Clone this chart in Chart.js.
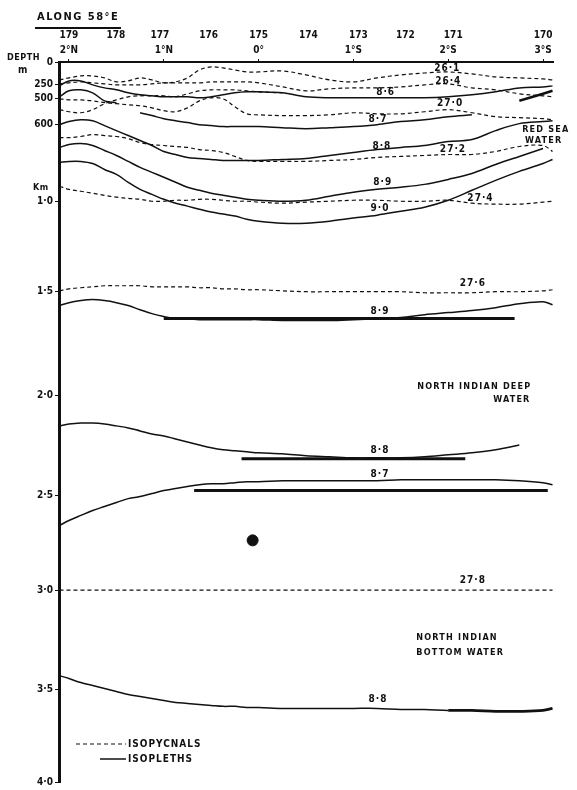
<!DOCTYPE html>
<html>
<head>
<meta charset="utf-8">
<script src="https://cdn.jsdelivr.net/npm/chart.js@4.4.0/dist/chart.umd.min.js"></script>
<style>
  html, body { margin: 0; padding: 0; background: #fff; }
  canvas { display: block; }
</style>
</head>
<body>
<canvas id="section" width="577" height="790"></canvas>
<script>
// Section along 58°E, stations 179-170 (2°N to 3°S)
// x = latitude (N positive), y = depth in m

const latGrid = [2.1, 2.0, 1.875, 1.75, 1.625, 1.5, 1.375, 1.25, 1.125, 1.0, 0.875, 0.75, 0.625, 0.5, 0.375, 0.25, 0.125, 0,
  -0.25, -0.5, -0.75, -1.0, -1.25, -1.5, -1.75, -2.0, -2.25, -2.5, -2.75, -3.0, -3.1];

const stationNumbers = [179, 178, 177, 176, 175, 174, 173, 172, 171, 170];
const stationLat = [2.0, 1.505, 1.04, 0.526, 0.0, -0.526, -1.053, -1.547, -2.053, -3.0];
const latTicks = [2, 1, 0, -1, -2, -3];
const latLabels = ["2°N", "1°N", "0°", "1°S", "2°S", "3°S"];

const depthTicks = [0, 250, 500, 600, 1000, 1500, 2000, 2500, 3000, 3500, 4000];
const depthLabels = ["0", "250", "500", "600", "1·0", "1·5", "2·0", "2·5", "3·0", "3·5", "4·0"];

// isopycnals (sigma-t)
const sig261 = [196,174,152,152,174,217,207,174,196,228,217,174,87,54,65,87,109,109,98,141,196,217,174,141,120,109,130,163,174,185,196];
const sig264 = [239,228,217,228,239,250,250,250,239,228,228,228,228,217,217,217,217,228,286,357,321,304,304,286,250,239,304,339,411,446,464];
const sig270 = [500,504,504,508,515,519,523,527,535,546,550,535,508,482,500,531,558,562,565,565,562,554,558,558,550,542,554,569,573,577,581];
const sig270b = [542,550,554,542,519,504,464,446,446,446,464,411,357,339,339,339,357,375,393,null,null,null,null,null,null,null,null,null,null,null,null];
const sig272 = [668,668,662,652,657,662,673,694,704,709,714,719,730,735,745,766,787,792,792,792,787,782,771,766,761,756,756,740,714,709,740];
const sig274 = [922,938,948,958,969,979,985,990,1000,1000,995,995,990,990,995,1000,1000,1005,1011,1005,1000,995,995,1000,1000,995,1011,1016,1016,1005,1000];
const sig276 = [1495,1484,1478,1473,1467,1467,1467,1467,1473,1473,1473,1473,1478,1478,1484,1484,1489,1489,1495,1500,1500,1500,1500,1500,1505,1505,1505,1500,1500,1495,1489];
const sig278 = [3000,3000,3000,3000,3000,3000,3000,3000,3000,3000,3000,3000,3000,3000,3000,3000,3000,3000,3000,3000,3000,3000,3000,3000,3000,3000,3000,3000,3000,3000,3000];

// isopleths (temperature)
const t86 = [268,207,207,250,304,339,393,429,446,464,464,464,482,464,429,393,375,375,393,464,482,482,482,482,482,464,429,375,304,286,268];
const t86b = [464,357,339,393,508,515,null,null,null,null,null,null,null,null,null,null,null,null,null,null,null,null,null,null,null,null,null,null,null,null,null];
const t87 = [null,null,null,null,null,null,null,554,565,577,585,592,600,605,610,610,610,610,616,621,616,610,600,588,581,569,562,null,null,null,null];
const t88 = [600,588,581,585,605,631,657,683,709,740,756,771,777,782,787,787,787,787,782,777,761,745,730,719,709,688,678,631,596,588,585];
const t89 = [719,704,699,709,735,761,792,823,849,875,901,927,943,958,969,979,990,995,1000,995,974,953,938,927,912,886,855,808,766,725,null];
const t90 = [797,792,792,803,834,860,901,938,964,990,1011,1027,1044,1060,1071,1082,1099,1110,1121,1121,1110,1093,1077,1055,1033,995,943,891,844,803,782];
const t89deep = [1567,1553,1543,1538,1543,1553,1567,1587,1606,1620,1630,1630,1635,1635,1635,1635,1635,1635,1639,1639,1639,1635,1630,1625,1611,1601,1591,1577,1558,1548,1563];
const t88deep = [2153,2144,2139,2139,2144,2153,2163,2178,2193,2203,2218,2233,2248,2262,2272,2277,2282,2287,2292,2302,2307,2312,2312,2312,2307,2297,2287,2272,2248,null,null];
const t87deep = [2658,2632,2605,2579,2558,2537,2516,2505,2490,2475,2465,2455,2446,2441,2441,2436,2431,2431,2426,2426,2426,2426,2426,2421,2421,2421,2421,2421,2426,2436,2446];
const t88bottom = [3430,3445,3465,3480,3495,3511,3527,3538,3548,3559,3570,3575,3581,3586,3591,3591,3597,3597,3602,3602,3602,3602,3602,3608,3608,3613,3613,3618,3618,3613,3602];
const redSeaCore = [null,null,null,null,null,null,null,null,null,null,null,null,null,null,null,null,null,null,null,null,null,null,null,null,null,null,null,null,508,411,357];

// core bars (heavy horizontal lines)
const coreFrom = [1.0, 0.18, 0.68];
const coreTo = [-2.7, -2.18, -3.05];
const coreDepth = [1630, 2317, 2475];

// contour labels
const contourText = ["26·1", "26·4", "8·6", "27·0", "8·7", "8·8", "27·2", "8·9", "9·0", "27·4", "27·6", "8·9", "8·8", "8·7", "27·8", "8·8"];
const contourLat = [-1.99, -2.0, -1.34, -2.02, -1.26, -1.3, -2.05, -1.31, -1.28, -2.34, -2.26, -1.28, -1.28, -1.28, -2.26, -1.26];
const contourDepth = [65, 207, 393, 519, 581, 714, 730, 901, 1038, 985, 1456, 1596, 2277, 2396, 2947, 3554];

// water mass names (left edge of text)
const waterText = ["RED SEA", "WATER", "NORTH INDIAN DEEP", "WATER", "NORTH INDIAN", "BOTTOM WATER"];
const waterLat = [-2.78, -2.81, -1.674, -2.474, -1.663, -1.663];
const waterDepth = [626, 683, 1957, 2020, 3240, 3315];

// ink spot
const spotLat = [0.063];
const spotDepth = [2737];

// depth axis is drawn unevenly on the original; knot spacing along the axis (px at 724 px tall)
const knotSpacing = [0, 23, 37, 63, 140, 231, 335, 436, 531, 631, 724];

function depthToDecimal(d) {
  const n = depthTicks.length;
  for (let i = 1; i < n; i++) {
    if (d <= depthTicks[i] || i === n - 1) {
      const t = (d - depthTicks[i - 1]) / (depthTicks[i] - depthTicks[i - 1]);
      return (knotSpacing[i - 1] + t * (knotSpacing[i] - knotSpacing[i - 1])) / 724;
    }
  }
  return 0;
}

function decimalToDepth(f) {
  const p = f * 724;
  const n = knotSpacing.length;
  for (let i = 1; i < n; i++) {
    if (p <= knotSpacing[i] || i === n - 1) {
      const t = (p - knotSpacing[i - 1]) / (knotSpacing[i] - knotSpacing[i - 1]);
      return depthTicks[i - 1] + t * (depthTicks[i] - depthTicks[i - 1]);
    }
  }
  return 0;
}

class DepthScale extends Chart.LinearScale {
  getPixelForValue(value) {
    if (value === null || value === undefined || isNaN(value)) return NaN;
    return this.getPixelForDecimal(depthToDecimal(value));
  }
  getValueForPixel(pixel) {
    return decimalToDepth(this.getDecimalForPixel(pixel));
  }
  buildTicks() {
    return depthTicks.map(v => ({ value: v }));
  }
}
DepthScale.id = "depth";
DepthScale.defaults = Chart.LinearScale.defaults;
Chart.register(DepthScale);

const ink = "#111";
const inkFont = "'DejaVu Sans Condensed', 'DejaVu Sans', sans-serif";

function series(vals) {
  return latGrid.map((lat, i) => ({ x: lat, y: vals[i] }));
}

const datasets = [];

[sig261, sig264, sig270, sig270b, sig272, sig274, sig276, sig278].forEach(vals => {
  datasets.push({
    data: series(vals),
    borderColor: ink,
    borderWidth: 1.2,
    borderDash: [4, 3],
    pointRadius: 0,
    tension: 0.35,
  });
});

[t86, t86b, t87, t88, t89, t90, t89deep, t88deep, t87deep].forEach(vals => {
  datasets.push({
    data: series(vals),
    borderColor: ink,
    borderWidth: 1.5,
    pointRadius: 0,
    tension: 0.35,
  });
});

// bottom 8.8 line gets heavier towards 3°S
datasets.push({
  data: series(t88bottom),
  borderColor: ink,
  borderWidth: 1.5,
  pointRadius: 0,
  tension: 0.35,
  segment: {
    borderWidth: c => (c.p0DataIndex >= 25 ? 2.8 : 1.5),
  },
});

datasets.push({
  data: series(redSeaCore),
  borderColor: ink,
  borderWidth: 2.6,
  pointRadius: 0,
  tension: 0.2,
});

coreDepth.forEach((d, i) => {
  datasets.push({
    data: [{ x: coreFrom[i], y: d }, { x: coreTo[i], y: d }],
    borderColor: ink,
    borderWidth: 3,
    pointRadius: 0,
    tension: 0,
  });
});

datasets.push({
  type: "scatter",
  data: spotLat.map((lat, i) => ({ x: lat, y: spotDepth[i] })),
  backgroundColor: ink,
  borderColor: ink,
  pointRadius: 5.5,
  showLine: false,
});

// text, titles and legend drawn on top
const sectionText = {
  id: "sectionText",
  afterDraw(chart) {
    const { ctx, chartArea } = chart;
    const x = chart.scales.x;
    const y = chart.scales.y;
    ctx.save();
    ctx.fillStyle = ink;
    ctx.strokeStyle = ink;
    ctx.textBaseline = "middle";

    // title
    ctx.font = "bold 11px " + inkFont;
    ctx.letterSpacing = "1.5px";
    ctx.textAlign = "left";
    ctx.fillText("ALONG 58°E", 37, 17);
    ctx.lineWidth = 2;
    ctx.beginPath();
    ctx.moveTo(35, 28);
    ctx.lineTo(121, 28);
    ctx.stroke();

    // axis captions
    ctx.letterSpacing = "0.5px";
    ctx.font = "bold 9px " + inkFont;
    ctx.fillText("DEPTH", 7, 58);
    ctx.font = "bold 10px " + inkFont;
    ctx.fillText("m", 18, 70);
    ctx.font = "bold 9px " + inkFont;
    ctx.fillText("Km", 33, 188);

    // contour values
    ctx.letterSpacing = "1px";
    ctx.font = "bold 10px " + inkFont;
    ctx.textAlign = "center";
    contourText.forEach((t, i) => {
      ctx.fillText(t, x.getPixelForValue(contourLat[i]), y.getPixelForValue(contourDepth[i]));
    });

    // water masses
    ctx.font = "bold 9px " + inkFont;
    ctx.letterSpacing = "1.2px";
    ctx.textAlign = "left";
    waterText.forEach((t, i) => {
      ctx.fillText(t, x.getPixelForValue(waterLat[i]), y.getPixelForValue(waterDepth[i]));
    });

    // legend
    const lx = chartArea.left;
    const ly = chartArea.bottom;
    ctx.lineWidth = 1.2;
    ctx.setLineDash([4, 3]);
    ctx.beginPath();
    ctx.moveTo(lx + 17, ly - 38);
    ctx.lineTo(lx + 67, ly - 38);
    ctx.stroke();
    ctx.setLineDash([]);
    ctx.lineWidth = 1.5;
    ctx.beginPath();
    ctx.moveTo(lx + 41, ly - 23);
    ctx.lineTo(lx + 67, ly - 23);
    ctx.stroke();
    ctx.font = "bold 10px " + inkFont;
    ctx.letterSpacing = "1px";
    ctx.fillText("ISOPYCNALS", lx + 69, ly - 38);
    ctx.fillText("ISOPLETHS", lx + 69, ly - 23);

    ctx.restore();
  },
};

const tickFont = { family: inkFont, size: 10, weight: "bold" };

new Chart(document.getElementById("section"), {
  type: "line",
  data: { datasets },
  options: {
    responsive: false,
    animation: false,
    events: [],
    layout: { padding: { top: 26, right: 24, bottom: 4, left: 0 } },
    plugins: {
      legend: { display: false },
      tooltip: { enabled: false },
    },
    scales: {
      x: {
        type: "linear",
        position: "top",
        min: -3.105,
        max: 2.105,
        reverse: true,
        weight: 0,
        afterFit: s => { s.height = 19; },
        afterBuildTicks: s => { s.ticks = latTicks.map(v => ({ value: v })); },
        ticks: {
          autoSkip: false,
          maxRotation: 0,
          padding: 3,
          color: ink,
          font: tickFont,
          callback: (v, i) => latLabels[i],
        },
        grid: { drawOnChartArea: false, tickLength: 3, color: ink },
        border: { display: true, width: 2, color: ink },
      },
      x2: {
        type: "linear",
        position: "top",
        min: -3.105,
        max: 2.105,
        reverse: true,
        weight: 1,
        afterFit: s => { s.height = 17; },
        afterBuildTicks: s => { s.ticks = stationLat.map(v => ({ value: v })); },
        ticks: {
          autoSkip: false,
          maxRotation: 0,
          padding: 2,
          color: ink,
          font: tickFont,
          callback: (v, i) => String(stationNumbers[i]),
        },
        grid: { display: false, drawTicks: false },
        border: { display: false },
      },
      y: {
        type: "depth",
        position: "left",
        min: 0,
        max: 4000,
        reverse: true,
        afterFit: s => { s.width = 59; },
        ticks: {
          autoSkip: false,
          padding: 2,
          color: ink,
          font: tickFont,
          callback: (v, i) => depthLabels[i],
        },
        grid: { drawOnChartArea: false, tickLength: 4, color: ink },
        border: { display: true, width: 3, color: ink },
      },
    },
  },
  plugins: [sectionText],
});
</script>
</body>
</html>
